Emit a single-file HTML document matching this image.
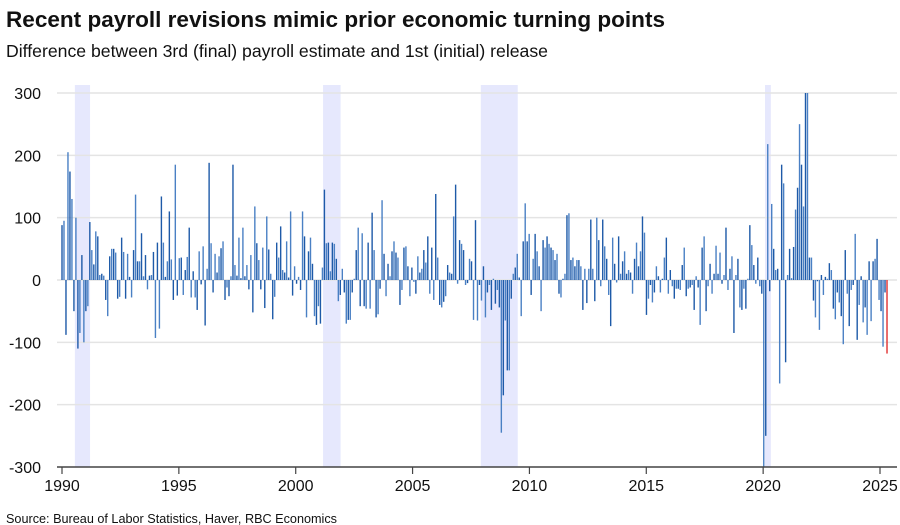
<!DOCTYPE html>
<html><head><meta charset="utf-8"><style>
body{margin:0;background:#fff;font-family:"Liberation Sans",Arial,sans-serif;}
svg{display:block}
</style></head><body>
<svg id="chart" width="900" height="525">
<text x="6" y="27" font-size="22.5" font-weight="bold" fill="#111" textLength="659" lengthAdjust="spacingAndGlyphs">Recent payroll revisions mimic prior economic turning points</text>
<text x="6" y="57" font-size="17.5" fill="#111" textLength="542" lengthAdjust="spacingAndGlyphs">Difference between 3rd (final) payroll estimate and 1st (initial) release</text>
<text x="6" y="523" font-size="12.7" fill="#111" textLength="331" lengthAdjust="spacingAndGlyphs">Source: Bureau of Labor Statistics, Haver, RBC Economics</text>
<g id="plot"></g>
</svg>
<script>
const startYear = 1990.0;
const endYear = 2025.3;
const recessionStarts = [1990.55, 2001.17, 2007.92, 2020.08];
const recessionEnds = [1991.2, 2001.92, 2009.5, 2020.33];
const yTicks = [-300,-200,-100,0,100,200,300];
const xTicks = [1990,1995,2000,2005,2010,2015,2020,2025];
const revisions = [
88,95,-88,205,174,130,-50,100,-110,-85,40,-100,-50,-42,93,48,25,78,70,8,10,7,-32,-58,38,50,50,44,-30,-27,68,45,-30,42,5,-28,48,137,30,30,75,6,40,-15,7,8,45,-93,60,-78,134,60,5,
30,110,33,-32,185,-25,35,36,-24,16,37,84,-28,14,-28,-48,46,-7,54,-73,18,188,59,-20,42,12,38,51,62,-32,-12,-26,6,185,24,7,68,3,84,6,24,-15,40,-52,118,59,32,-15,52,-45,102,49,10,-63,
-27,60,36,86,16,12,62,4,110,-25,22,-6,5,-16,110,70,-60,46,68,26,-58,-72,-42,-70,20,145,59,60,14,60,58,34,-34,-24,18,-20,-70,-64,-64,-20,2,48,84,-42,75,-42,-46,60,-46,108,48,-60,
-55,-14,128,42,-26,26,6,46,62,44,36,-40,-16,52,54,22,-26,20,-3,-22,38,12,18,48,28,70,-22,52,-32,138,36,-40,-44,-35,-26,24,12,10,102,153,-6,64,58,48,-8,-5,34,30,-64,96,-65,-8,-33,
22,-60,-20,-8,-48,2,-38,-16,-44,-245,-185,-65,-145,-145,-30,10,20,42,4,-58,62,123,62,74,-24,34,74,46,22,-50,64,52,70,58,52,48,32,42,-22,-28,2,10,104,107,32,36,22,32,32,22,-48,18,
-37,18,97,18,-34,100,64,-10,97,54,34,-24,-74,68,26,-4,70,10,30,46,10,16,12,-22,34,60,22,46,102,76,-56,-30,-8,-36,-20,22,6,-20,2,36,68,-22,16,-10,-30,-14,-14,-16,24,52,-26,-14,
-12,-8,-48,6,-12,-72,52,70,-50,-10,26,-22,10,55,10,44,-6,8,84,-16,18,38,-85,8,34,-44,-48,-14,-46,2,88,56,24,-6,36,-10,-22,-300,-250,218,-18,122,50,16,18,-166,185,155,-132,8,50,
3,53,113,148,250,185,118,320,320,36,36,-33,-60,-2,-80,8,-24,5,2,27,16,-46,-63,-20,-36,-58,-103,48,-22,-74,-16,-8,74,-96,-40,6,-68,-44,-88,30,-66,30,34,66,-32,-50,-107,-20,-118
];
const NS='http://www.w3.org/2000/svg';
const g=document.getElementById('plot');
const L=57,R=897,T=93,B=467;
const x0=62,xPerYear=(880-62)/35;
function xs(yr){return x0+(yr-1990)*xPerYear;}
function ys(v){return 280-v*(280-93)/300;}
function mk(tag,attrs){const e=document.createElementNS(NS,tag);for(const k in attrs)e.setAttribute(k,attrs[k]);g.appendChild(e);return e;}
recessionStarts.forEach((s,i)=>{
 const r=mk('rect',{x:xs(s),y:T-8,width:xs(recessionEnds[i])-xs(s),height:B-T+8,fill:'#e6e8fd'});
 
 
});
yTicks.forEach(v=>{
 if(v!==-300){const l=mk('line',{x1:L,x2:R,y1:ys(v),y2:ys(v),stroke:'#e4e4e4','stroke-width':1.5});
 
 }
 const t=mk('text',{x:41,y:ys(v)+6,'font-size':16,'text-anchor':'end',fill:'#111'});
 t.textContent=v;
 
 
});
const n=revisions.length;
revisions.forEach((v,i)=>{
 const yr=startYear+(endYear-startYear)*i/(n-1);
 const vc=Math.max(-300,Math.min(300,v));
 const y1=ys(Math.max(0,vc)),y2=ys(Math.min(0,vc));
 const b=mk('rect',{x:xs(yr)-0.7,y:y1,width:1.4,height:Math.max(0.5,y2-y1),fill:i===n-1?'#e03030':(i%2?'#4a80c4':'#1e5aa8')});
 
 
});
const ax=mk('line',{x1:L,x2:R,y1:B,y2:B,stroke:'#444','stroke-width':1.5});


xTicks.forEach(yr=>{
 const tk=mk('line',{x1:xs(yr),x2:xs(yr),y1:B,y2:B+7,stroke:'#444','stroke-width':1.2});
 
 
 const t=mk('text',{x:xs(yr),y:491,'font-size':16,'text-anchor':'middle',fill:'#111'});
 t.textContent=yr;
 
 
});
</script>
</body></html>
